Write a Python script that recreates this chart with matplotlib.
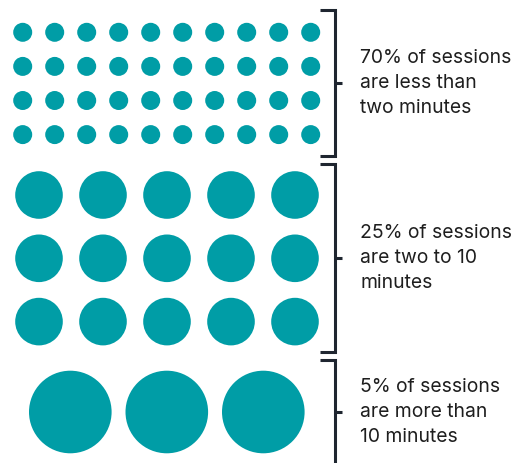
import matplotlib
matplotlib.use("Agg")
import matplotlib.pyplot as plt
from matplotlib.patches import Circle

# ---- data ----
group_pcts = [70, 25, 5]
group_circle_counts = [40, 15, 3]
group_columns = [10, 5, 3]
group_labels = [
    ["70% of sessions", "are less than", "two minutes"],
    ["25% of sessions", "are two to 10", "minutes"],
    ["5% of sessions", "are more than", "10 minutes"],
]

# ---- layout (pixels) ----
W, H = 524, 463
teal = "#009da6"
dark = "#1f2630"
txtc = "#1e1e1e"
radii = [9.5, 23.8, 41.3]
first_x = [22.7, 39.0, 70.3]
dx = [32.0, 64.0, 96.5]
first_y = [32.3, 195.0, 412.0]
dy = [34.1, 63.3, 0]
br_top = [10, 164, 360]
br_bot = [156, 352, 470]
br_x = 335
br_left = 320
tick_len = 6.5
text_x = 360.5
line_gap = 25.0

fig = plt.figure(figsize=(W / 100, H / 100), dpi=100)
ax = fig.add_axes([0, 0, 1, 1])
ax.set_xlim(0, W)
ax.set_ylim(H, 0)
ax.axis("off")

for g in range(3):
    n = group_circle_counts[g]
    cols = group_columns[g]
    for i in range(n):
        r, c = divmod(i, cols)
        cx = first_x[g] + c * dx[g]
        cy = first_y[g] + r * dy[g]
        ax.add_patch(Circle((cx, cy), radii[g], color=teal, lw=0))
    # bracket
    top, bot = br_top[g], br_bot[g]
    ax.plot([br_left, br_x, br_x, br_left], [top, top, bot, bot],
            color=dark, lw=2.2, solid_joinstyle="miter", solid_capstyle="butt")
    rows = (n + cols - 1) // cols
    mid = first_y[g] + (rows - 1) * dy[g] / 2
    ax.plot([br_x, br_x + tick_len], [mid, mid], color=dark, lw=2.2,
            solid_capstyle="butt")
    for k, line in enumerate(group_labels[g]):
        ax.text(text_x, mid + (k - 1) * line_gap, line, fontsize=13.9,
                family="Inter", color=txtc, va="center", ha="left")

fig.savefig("out.png", dpi=100)
